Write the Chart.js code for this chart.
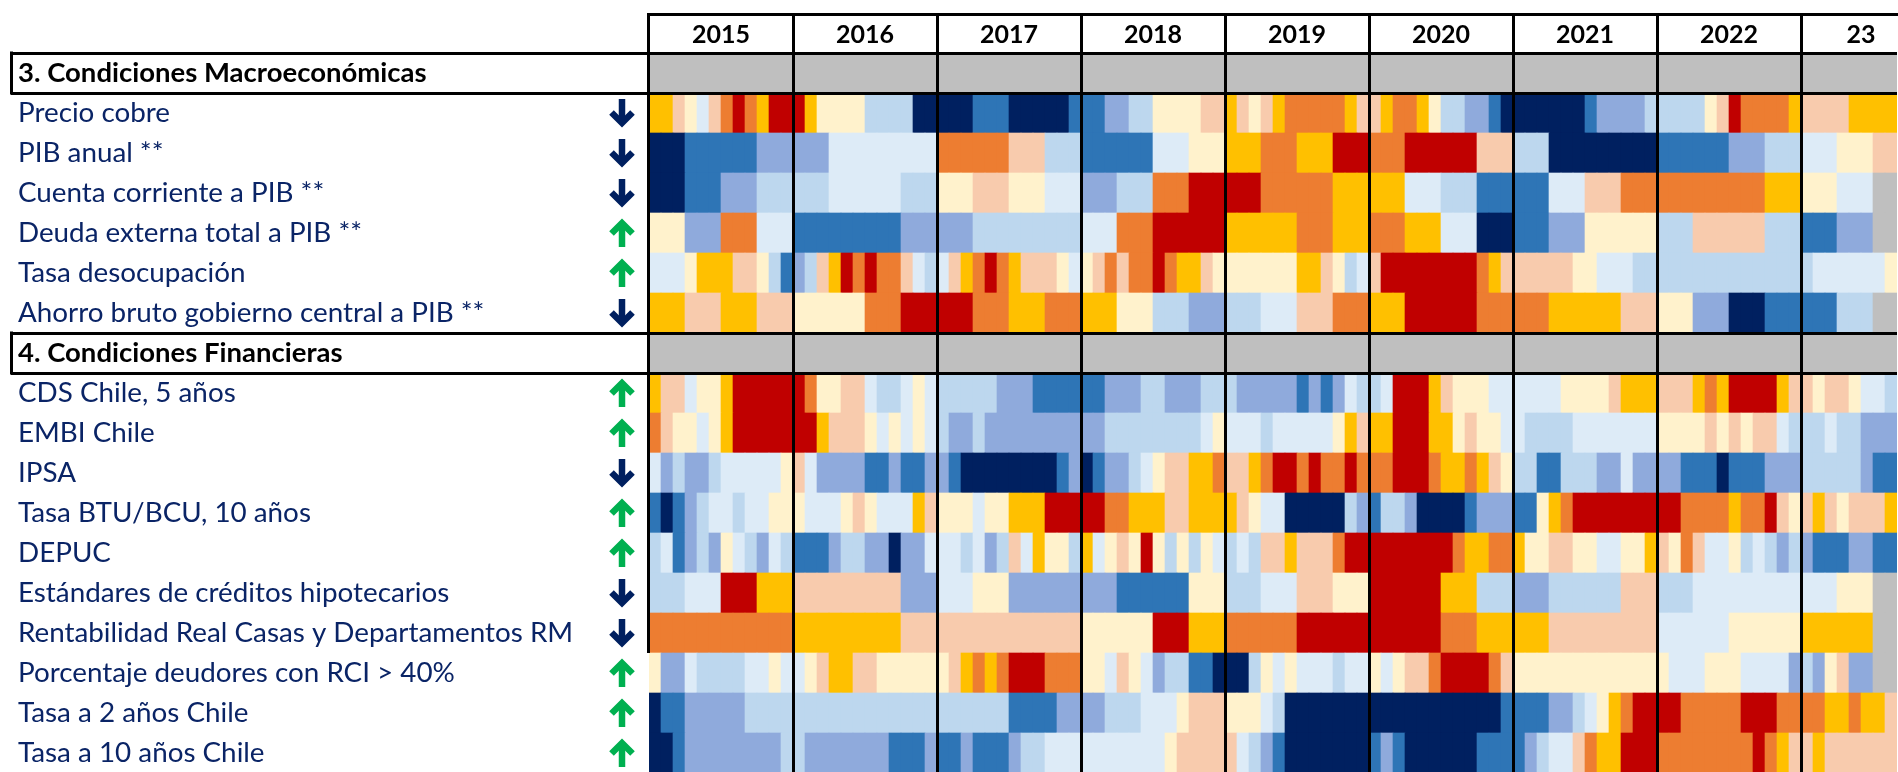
<!DOCTYPE html>
<html>
<head>
<meta charset="utf-8">
<script src="https://cdn.jsdelivr.net/npm/chart.js@4.4.1/dist/chart.umd.min.js"></script>
<style>
  html, body { margin: 0; padding: 0; background: #fff; overflow: hidden; }
  #wrap { width: 1898px; height: 773px; }
</style>
</head>
<body>
<div id="wrap"><canvas id="heat"></canvas></div>
<script>
// monthly deciles (1 = low ... 10 = high), Jan 2015 onwards; null = no data
const years = ['2015', '2016', '2017', '2018', '2019', '2020', '2021', '2022', '23'];

const macroLabels = ['Precio cobre', 'PIB anual **', 'Cuenta corriente a PIB **',
  'Deuda externa total a PIB **', 'Tasa desocupación', 'Ahorro bruto gobierno central a PIB **'];
const macroArrows = ['down', 'down', 'down', 'up', 'up', 'down'];

const finLabels = ['CDS Chile, 5 años', 'EMBI Chile', 'IPSA', 'Tasa BTU/BCU, 10 años', 'DEPUC',
  'Estándares de créditos hipotecarios', 'Rentabilidad Real Casas y Departamentos RM',
  'Porcentaje deudores con RCI > 40%', 'Tasa a 2 años Chile', 'Tasa a 10 años Chile'];
const finArrows = ['up', 'up', 'down', 'up', 'up', 'down', 'down', 'up', 'up', 'up'];

const precioCobre = [
  8,8,7,6,5,7,9,10,9,8,10,10,  10,8,6,6,6,6,4,4,4,4,1,1,  1,1,1,2,2,2,1,1,1,1,1,2,
  2,2,3,3,4,4,6,6,6,6,7,7,  8,7,6,7,8,9,9,9,9,9,8,7,  7,8,9,9,8,6,4,4,3,3,2,1,
  1,1,1,1,1,1,2,3,3,3,3,4,  4,4,4,4,6,7,10,9,9,9,9,8,  7,7,7,7,8,8,8,8];
const pibAnual = [
  1,1,1,2,2,2,2,2,2,3,3,3,  3,3,3,5,5,5,5,5,5,5,5,5,  9,9,9,9,9,9,7,7,7,4,4,4,
  2,2,2,2,2,2,5,5,5,6,6,6,  8,8,8,9,9,9,8,8,8,10,10,10,  9,9,9,10,10,10,10,10,10,7,7,7,
  4,4,4,1,1,1,1,1,1,1,1,1,  2,2,2,2,2,2,3,3,3,4,4,4,  5,5,5,6,6,6,7,7];
const cuentaCorriente = [
  1,1,1,2,2,2,3,3,3,4,4,4,  4,4,4,5,5,5,5,5,5,4,4,4,  6,6,6,7,7,7,6,6,6,5,5,5,
  3,3,3,4,4,4,9,9,9,10,10,10,  10,10,10,9,9,9,9,9,9,8,8,8,  8,8,8,5,5,5,4,4,4,2,2,2,
  2,2,2,5,5,5,7,7,7,9,9,9,  9,9,9,9,9,9,9,9,9,8,8,8,  6,6,6,5,5,5,null,null];
const deudaExterna = [
  6,6,6,3,3,3,9,9,9,5,5,5,  2,2,2,2,2,2,2,2,2,3,3,3,  3,3,3,4,4,4,4,4,4,4,4,4,
  5,5,5,9,9,9,10,10,10,10,10,10,  8,8,8,8,8,8,9,9,9,8,8,8,  9,9,9,8,8,8,5,5,5,1,1,1,
  2,2,2,3,3,3,6,6,6,6,6,6,  4,4,4,7,7,7,7,7,7,4,4,4,  2,2,2,3,3,3,null,null];
const tasaDesocupacion = [
  5,5,5,6,8,8,8,7,7,6,4,2,  3,4,7,8,10,9,10,9,9,7,5,4,  5,7,8,9,10,9,8,7,7,7,6,5,
  6,7,9,7,9,9,10,9,8,8,7,6,  6,6,6,6,6,6,8,8,7,6,4,5,  7,10,10,10,10,10,10,10,10,9,8,7,
  7,7,7,7,7,6,6,5,5,5,4,4,  4,4,4,4,4,4,4,4,4,4,4,4,  4,5,5,5,5,5,5,6];
const ahorroGobierno = [
  8,8,8,7,7,7,8,8,8,7,7,7,  6,6,6,6,6,6,9,9,9,10,10,10,  10,10,10,9,9,9,8,8,8,9,9,9,
  8,8,8,6,6,6,4,4,4,3,3,3,  4,4,4,5,5,5,7,7,7,9,9,9,  8,8,8,10,10,10,10,10,10,9,9,9,
  9,9,9,8,8,8,8,8,8,7,7,7,  6,6,6,3,3,3,1,1,1,2,2,2,  2,2,2,4,4,4,null,null];

const cdsChile = [
  8,7,7,5,6,6,8,10,10,10,10,10,  10,9,6,6,7,7,5,4,4,5,6,5,  4,4,4,4,4,3,3,3,2,2,2,2,
  2,2,3,3,3,4,4,3,3,3,4,4,  4,3,3,3,3,3,2,3,2,3,5,4,  4,5,10,10,10,8,7,6,6,6,5,5,
  5,5,5,5,6,6,6,6,7,8,8,8,  7,7,7,8,9,8,10,10,10,10,8,7,  7,6,7,7,6,5,5,4];
const embiChile = [
  9,7,6,6,5,6,8,10,10,10,10,10,  10,10,8,7,7,7,6,5,6,5,6,5,  4,3,3,4,3,3,3,3,3,3,3,3,
  3,3,4,4,4,4,4,4,4,4,5,6,  5,5,5,4,5,5,5,5,5,6,8,7,  8,8,10,10,10,8,8,6,7,6,6,5,
  5,4,4,4,4,5,5,5,5,5,5,5,  6,6,6,6,7,6,7,6,7,7,5,4,  4,4,5,4,4,3,3,3];
const ipsa = [
  5,3,4,3,3,4,5,5,5,5,5,6,  7,5,3,3,3,3,2,2,3,2,2,3,  3,2,1,1,1,1,1,1,1,1,2,3,
  1,2,3,3,4,5,6,7,7,8,8,9,  7,7,8,9,10,10,9,10,9,9,10,9,  9,9,10,10,10,9,8,8,9,8,7,6,
  4,4,2,2,4,4,4,3,3,5,3,3,  3,3,2,2,2,1,2,2,2,3,3,3,  4,4,4,4,4,3,2,2];
const tasaBtu10 = [
  2,1,2,3,4,5,5,4,5,5,6,6,  6,5,5,5,6,7,6,5,5,5,8,7,  6,6,6,5,6,6,8,8,8,10,10,10,
  10,10,9,9,8,8,8,7,7,8,8,8,  8,7,6,5,5,1,1,1,1,1,4,3,  2,4,4,3,1,1,1,1,2,3,3,3,
  2,2,6,8,9,10,10,10,10,10,10,10,  10,10,9,9,9,9,8,9,9,10,7,6,  7,8,7,6,7,7,7,8];
const depuc = [
  4,5,2,3,4,3,6,5,4,3,5,4,  2,2,2,3,4,4,3,3,1,3,3,5,  5,5,4,5,3,4,7,5,8,6,6,4,
  8,5,6,7,6,10,6,4,6,4,6,5,  4,5,4,7,7,8,7,7,7,9,10,10,  10,10,10,10,10,10,10,9,8,8,9,9,
  8,6,6,7,7,6,6,5,5,6,6,8,  7,6,9,7,5,5,6,4,5,4,3,4,  3,2,2,2,3,3,2,2];
const estandaresHipotecarios = [
  4,4,4,5,5,5,10,10,10,8,8,8,  7,7,7,7,7,7,7,7,7,3,3,3,  5,5,5,6,6,6,3,3,3,3,3,3,
  3,3,3,2,2,2,2,2,2,6,6,6,  4,4,4,5,5,5,7,7,7,6,6,6,  10,10,10,10,10,10,8,8,8,4,4,4,
  3,3,3,4,4,4,4,4,4,7,7,7,  4,4,4,5,5,5,5,5,5,5,5,5,  5,5,5,6,6,6,null,null];
const rentabilidadViviendas = [
  9,9,9,9,9,9,9,9,9,9,9,9,  8,8,8,8,8,8,8,8,8,7,7,7,  7,7,7,7,7,7,7,7,7,7,7,7,
  6,6,6,6,6,6,10,10,10,8,8,8,  9,9,9,9,9,9,10,10,10,10,10,10,  10,10,10,10,10,10,9,9,9,8,8,8,
  8,8,8,7,7,7,7,7,7,7,7,7,  5,5,5,5,5,5,6,6,6,6,6,6,  8,8,8,8,8,8,null,null];
const deudoresRci = [
  6,3,3,5,4,4,4,4,5,5,6,5,  5,6,7,8,8,7,7,6,6,6,6,6,  6,7,8,9,8,9,10,10,10,9,9,9,
  6,6,5,7,6,5,3,4,4,2,2,1,  1,1,4,6,5,6,5,5,5,4,5,5,  6,5,6,7,7,9,10,10,10,10,9,7,
  6,6,6,6,6,6,6,6,6,6,6,6,  6,5,5,5,6,6,6,5,5,5,5,3,  4,3,6,7,3,3,null,null];
const tasa2Anios = [
  1,2,2,3,3,3,3,3,4,4,4,4,  4,4,4,4,4,4,4,4,4,4,4,4,  4,4,4,4,4,4,2,2,2,2,3,3,
  3,3,4,4,4,5,5,5,6,7,7,7,  6,6,6,5,4,1,1,1,1,1,1,1,  1,1,1,1,1,1,1,1,1,1,1,2,
  2,2,2,3,3,4,5,6,8,9,10,10,  10,10,9,9,9,9,9,10,10,10,9,9,  9,9,8,8,9,8,8,7];
const tasa10Anios = [
  1,1,2,3,3,3,3,3,3,3,3,4,  4,3,3,3,3,3,3,3,2,2,2,3,  2,2,3,2,2,2,3,4,4,5,5,5,
  5,5,5,5,5,5,5,6,7,7,7,7,  7,5,4,3,2,1,1,1,1,1,1,1,  2,3,2,1,1,1,1,1,1,2,2,2,
  2,3,4,5,5,7,9,8,8,10,10,10,  9,9,9,9,9,9,9,9,10,9,8,7,  7,8,7,7,7,7,7,7];

const macroSeries = [precioCobre, pibAnual, cuentaCorriente, deudaExterna, tasaDesocupacion, ahorroGobierno];
const finSeries = [cdsChile, embiChile, ipsa, tasaBtu10, depuc, estandaresHipotecarios,
  rentabilidadViviendas, deudoresRci, tasa2Anios, tasa10Anios];

// blue (decile 1) to red (decile 10)
const palette = ['#002060', '#2E75B6', '#8FAADC', '#BDD7EE', '#DDEBF7',
  '#FFF2CC', '#F8CBAD', '#FFC000', '#ED7D31', '#C00000'];
const missingColor = '#BFBFBF';
const labelColor = '#0A2466';
const arrowColors = { up: '#00B050', down: '#002060' };

const months = 104;          // Jan 2015 .. Aug 2023 shown
const lastHeaderEnd = 106;   // the 2023 header cell runs a little past the cut
const frameEndRow = 'Rentabilidad Real Casas y Departamentos RM';  // left frame stops under this row

const rows = [
  { label: '3. Condiciones Macroeconómicas', section: true },
  ...macroLabels.map((l, i) => ({ label: l, arrow: macroArrows[i], values: macroSeries[i] })),
  { label: '4. Condiciones Financieras', section: true },
  ...finLabels.map((l, i) => ({ label: l, arrow: finArrows[i], values: finSeries[i] }))
];

const cells = [];
rows.forEach(r => {
  for (let m = 0; m < months; m++) {
    const v = r.section ? null : (r.values[m] ?? null);
    cells.push({ x: [m, m + 1], y: r.label, v: v });
  }
});

// year ticks: boundaries carry the thick lines, centres carry the labels
const yearStarts = years.map((_, i) => i * 12);
const yearCentres = years.map((_, i) => i < years.length - 1 ? i * 12 + 6 : (i * 12 + lastHeaderEnd) / 2);

const isSectionEdge = i => (rows[i] && rows[i].section) || (rows[i - 1] && rows[i - 1].section);

const tableFrame = {
  id: 'tableFrame',
  afterDraw(chart) {
    const { ctx, chartArea, scales: { x, y } } = chart;
    const half = (y.getPixelForValue(1) - y.getPixelForValue(0)) / 2;
    ctx.save();
    ctx.strokeStyle = '#000';
    ctx.lineWidth = 3;
    // top edge of the year header
    ctx.beginPath();
    ctx.moveTo(chartArea.left - 1.5, x.top + 1.5);
    ctx.lineTo(chart.width, x.top + 1.5);
    ctx.stroke();
    // left edge of the table
    const left = x.getPixelForValue(0) - 0.5;
    const endIdx = rows.findIndex(r => r.label === frameEndRow);
    ctx.beginPath();
    ctx.moveTo(left, x.top);
    ctx.lineTo(left, y.getPixelForValue(endIdx) + half);
    ctx.stroke();

    rows.forEach((r, i) => {
      const yc = y.getPixelForValue(i);
      if (r.section) {
        ctx.strokeStyle = '#000';
        ctx.lineWidth = 3;
        ctx.beginPath();
        ctx.moveTo(11.5, yc - half - 1.5);
        ctx.lineTo(11.5, yc + half + 1.5);
        ctx.stroke();
        return;
      }
      // direction arrow next to the label
      const ax = 622;
      const dir = r.arrow === 'up' ? -1 : 1;
      ctx.strokeStyle = arrowColors[r.arrow];
      ctx.lineWidth = 6.5;
      ctx.lineCap = 'butt';
      ctx.lineJoin = 'miter';
      ctx.beginPath();
      ctx.moveTo(ax, yc - 14 * dir);
      ctx.lineTo(ax, yc + 10 * dir);
      ctx.stroke();
      ctx.beginPath();
      ctx.moveTo(ax - 10.5, yc - 0.5 * dir);
      ctx.lineTo(ax, yc + 10 * dir);
      ctx.lineTo(ax + 10.5, yc - 0.5 * dir);
      ctx.stroke();
    });
    ctx.restore();
  }
};

new Chart(document.getElementById('heat'), {
  type: 'bar',
  data: {
    labels: rows.map(r => r.label),
    datasets: [{
      data: cells,
      backgroundColor: ctx => (ctx.raw && ctx.raw.v) ? palette[ctx.raw.v - 1] : missingColor,
      borderWidth: 0,
      categoryPercentage: 1,
      barPercentage: 1
    }]
  },
  options: {
    indexAxis: 'y',
    responsive: true,
    maintainAspectRatio: false,
    animation: false,
    layout: { padding: { left: 18, top: 13, right: 1, bottom: 0 } },
    plugins: { legend: { display: false }, tooltip: { enabled: false } },
    scales: {
      x: {
        type: 'linear',
        position: 'top',
        min: 0,
        max: months,
        afterBuildTicks: scale => {
          scale.ticks = [...yearStarts, ...yearCentres].sort((a, b) => a - b).map(v => ({ value: v }));
        },
        afterFit: scale => {
          scale.height = 40;
          scale.paddingLeft = 0;
          scale.paddingRight = 0;
        },
        ticks: {
          autoSkip: false,
          maxRotation: 0,
          minRotation: 0,
          padding: -37,
          color: '#000',
          font: { family: 'Lato', size: 25, weight: 'bold' },
          callback: value => {
            const i = yearCentres.indexOf(value);
            return i >= 0 ? years[i] : '';
          }
        },
        grid: {
          z: 1,
          color: '#000',
          // the first boundary is drawn by the frame plugin
          lineWidth: ctx => (ctx.tick && ctx.tick.value > 0 && yearStarts.includes(ctx.tick.value)) ? 3 : 0,
          tickLength: 40
        },
        border: { display: false }
      },
      y: {
        type: 'category',
        offset: true,
        afterFit: scale => {
          scale.width = 631;
          scale.paddingTop = 0;
          scale.paddingBottom = 0;
        },
        ticks: {
          autoSkip: false,
          crossAlign: 'far',
          color: ctx => rows[ctx.index].section ? '#000' : labelColor,
          font: ctx => rows[ctx.index].section
            ? { family: 'Lato', size: 27.5, weight: 'bold' }
            : { family: 'Lato', size: 27.8 }
        },
        grid: {
          z: 1,
          offset: true,
          color: '#000',
          lineWidth: ctx => isSectionEdge(ctx.index) ? 3 : 0,
          tickLength: 638
        },
        border: { display: false }
      }
    }
  },
  plugins: [tableFrame]
});
</script>
</body>
</html>
